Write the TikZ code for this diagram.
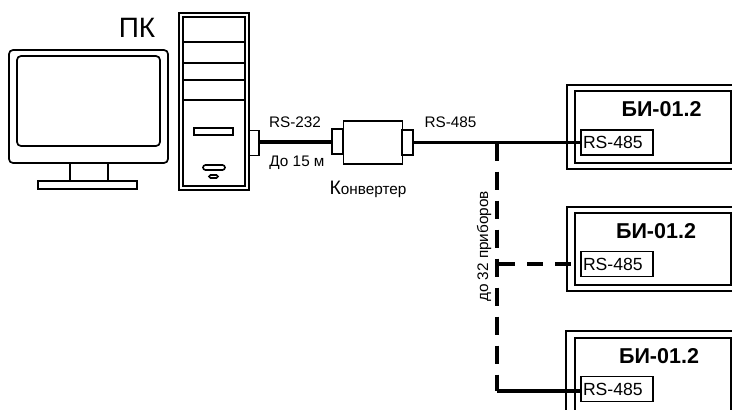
\documentclass[tikz,border=0pt]{standalone}
\usepackage{fontspec}
\setmainfont{Liberation Sans}
\tikzset{
  x=1pt,y=-1pt,
  thin box/.style={draw=black,line width=1.7pt,fill=white},
  frame/.style={draw=black,line width=1.8pt,fill=white},
  plug/.style={draw=black,line width=1.6pt,fill=white},
  bus/.style={draw=black,line width=3.2pt},
  dashbus/.style={bus,line width=4pt,dash pattern=on 18pt off 11pt},
  dashbranch/.style={bus,dash pattern=on 16pt off 12pt},
  lbl/.style={inner sep=0pt,font=\fontsize{15.3}{17}\selectfont},
  ttl/.style={inner sep=0pt,font=\fontsize{21.5}{23}\selectfont\bfseries},
  rs/.style={draw=black,line width=1.8pt,fill=white,inner xsep=2pt,inner ysep=0pt,text width=68pt,minimum height=25pt,font=\fontsize{17.6}{19}\selectfont,align=left},
}
\begin{document}
\begin{tikzpicture}
\useasboundingbox (0,0) rectangle (732,410);
% monitor
\draw[thin box,rounded corners=4pt] (9,50) rectangle (168,163);
\draw[thin box,rounded corners=4pt] (17,56) rectangle (160,146);
\draw[thin box,line width=1.5pt] (70,163) rectangle (108,181);
\draw[thin box,line width=1.5pt] (38,181) rectangle (137,189);
% tower
\draw[frame] (179,13) rectangle (249,190);
\draw[frame] (183,17) rectangle (245,186);
\foreach \yy in {42,63,80,100} \draw[line width=1.5pt] (184,\yy) -- (244,\yy);
\draw[plug] (194,128) rectangle (233,135);
\draw[plug,rounded corners=2.5pt] (203,165) rectangle (225,170);
\draw[plug,rounded corners=1.5pt] (209,175) rectangle (218,178);
\node[plug,inner sep=0pt,minimum width=10pt,minimum height=25pt] (pcport) at (254,143) {};
\node[inner sep=0pt,font=\fontsize{28}{30}\selectfont] (pk) at (137,28) {ПК};
% converter
\node[plug,inner sep=0pt,minimum width=59pt,minimum height=43pt] (conv) at (373,142.5) {};
\node[plug,inner sep=0pt,minimum width=11pt,minimum height=25pt] (cl) at (337.5,141.5) {};
\node[plug,inner sep=0pt,minimum width=11pt,minimum height=25pt] (cr) at (407.5,142.5) {};
\node[lbl] (t232) at (295,122) {RS-232};
\node[lbl] (t15) at (297,163) {До 15 м};
\node[lbl,anchor=base] (tconv) at (368,194) {{\fontsize{19.5}{21}\selectfont К}онвертер};
\node[lbl] (t485) at (450.5,122) {RS-485};
% units
\draw[frame,line width=2pt] (567,85) rectangle (736,169);
\draw[frame] (575,91) rectangle (731,163);
\node[ttl] (t1) at (661.5,109) {БИ-01.2};
\node[rs] (r1) at (617,142.5) {RS-485};
\draw[frame,line width=2pt] (567,207) rectangle (736,291);
\draw[frame] (575,213) rectangle (731,285);
\node[ttl] (t2) at (656,231) {БИ-01.2};
\node[rs] (r2) at (617,264) {RS-485};
\draw[frame,line width=2pt] (566,331) rectangle (736,415);
\draw[frame] (575,338) rectangle (731,412);
\node[ttl] (t3) at (659,356) {БИ-01.2};
\node[rs] (r3) at (617,389) {RS-485};
% connectors
\coordinate (j1) at (497,142.5);
\coordinate (j2) at (497,264);
\coordinate (j3) at (497,391);
\draw[bus] (pcport.east |- 0,142) -- (cl.west |- 0,142);
\draw[bus] (cr.east) -- (r1.west);
\draw[dashbus] (j1) -- (j3);
\draw[dashbranch] (j2) ++(2,0) -- (r2.west |- 0,264) ;
\draw[bus] (j3) -- (r3.west |- 0,391);
\node[lbl,rotate=90] (t32) at (484,246.5) {до 32 приборов};
\end{tikzpicture}
\end{document}
